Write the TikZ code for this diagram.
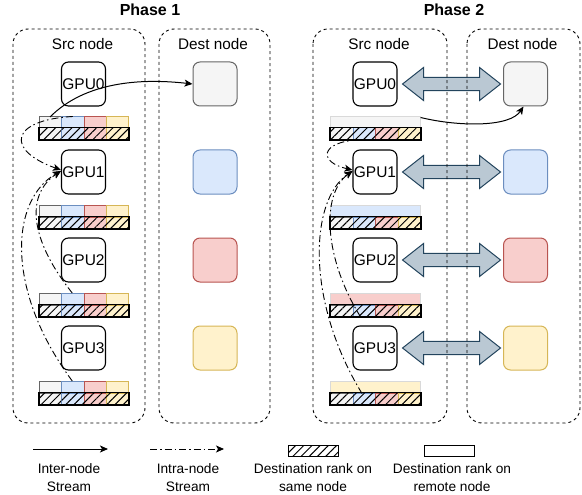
\documentclass[tikz,border=0pt]{standalone}
\usepackage{fontspec}
\setmainfont{Liberation Sans}
\usetikzlibrary{arrows.meta,patterns.meta,calc}

\definecolor{grayF}{HTML}{F5F5F5}\definecolor{grayD}{HTML}{666666}
\definecolor{blueF}{HTML}{DAE8FC}\definecolor{blueD}{HTML}{6C8EBF}
\definecolor{redF}{HTML}{F8CECC}\definecolor{redD}{HTML}{B85450}
\definecolor{yelF}{HTML}{FFF2CC}\definecolor{yelD}{HTML}{D6B656}
\definecolor{arrF}{HTML}{BAC8D3}\definecolor{arrD}{HTML}{23445D}

\begin{document}
\begin{tikzpicture}[x=1pt,y=-1pt,
  group/.style={draw=black, line width=0.9pt, dash pattern=on 3pt off 3pt, rounded corners=15pt},
  title/.style={font=\fontsize{16}{19}\selectfont\bfseries, anchor=base},
  grouplabel/.style={font=\fontsize{15.3}{18}\selectfont, anchor=base},
  gpu/.style={draw=black, line width=1.1pt, rounded corners=7pt, minimum size=44pt, inner sep=0pt,
    font=\fontsize{15.5}{18}\selectfont},
  dest/.style={draw=#1D, fill=#1F, line width=1pt, rounded corners=7pt, minimum size=44pt, inner sep=0pt},
  cell/.style={draw=#1D, fill=#1F, line width=0.8pt, minimum width=22.25pt, minimum height=11.5pt,
    inner sep=0pt, anchor=north west},
  hatch/.style={postaction={pattern={Lines[angle=45,distance=5.8pt,line width=1pt]}, pattern color=black}},
  hcell/.style={cell=#1, hatch},
  wrow/.style={draw=black!15, fill=#1F, line width=0.6pt, minimum width=90pt, minimum height=11.5pt,
    inner sep=0pt, anchor=north west},
  rowframe/.style={draw=black, line width=1.6pt},
  tip/.style={-{Stealth[length=8pt,width=7pt,inset=2pt]}},
  inter/.style={tip, draw=black, line width=1pt},
  intra/.style={tip, draw=black, line width=0.9pt, dash pattern=on 7pt off 3pt on 1.5pt off 3pt},
  dbl/.style={draw=arrD, fill=arrF, line width=1pt, line join=miter},
  legend/.style={font=\fontsize{13.7}{18}\selectfont, align=center, anchor=north, inner sep=0pt}
]
\useasboundingbox (0,0) rectangle (582,495);

% ---------- titles ----------
\node[title] (t1) at (150,16) {Phase 1};
\node[title] (t2) at (454,16) {Phase 2};

% ---------- GPUs and destination ranks ----------
\foreach \k/\y/\c in {0/84/gray,1/172/blue,2/260/red,3/348/yel} {
  \node[gpu] (g1\k) at (83.5,\y) {GPU\k};
  \node[dest=\c] (d1\k) at (215,\y) {};
  \node[gpu] (g2\k) at (375,\y) {GPU\k};
  \node[dest=\c] (d2\k) at (525.5,\y) {};
}

% ---------- phase 2 links between GPU pairs ----------
\foreach \k in {0,1,2,3} {
  \draw[dbl] ([xshift=5pt]g2\k.east) -- ++(21,-16.5) -- ++(0,9.9) -- ++(56,0) -- ++(0,-9.9)
    -- ++(21,16.5) -- ++(-21,16.5) -- ++(0,-9.9) -- ++(-56,0) -- ++(0,9.9) -- cycle;
}

% ---------- node groups ----------
\draw[group] (13,29) rectangle (145,423);
\draw[group] (159,29) rectangle (270,423);
\draw[group] (313,29) rectangle (447,423);
\draw[group] (467,29) rectangle (580,423);
\node[grouplabel] (s1) at (82.5,50) {Src node};
\node[grouplabel] (e1) at (213,50) {Dest node};
\node[grouplabel] (s2) at (379,50) {Src node};
\node[grouplabel] (e2) at (522.5,50) {Dest node};

% ---------- phase 1 send buffers ----------
\foreach \i/\y in {0/116,1/205,2/293,3/381} {
  \foreach \c/\cf in {0/gray,1/blue,2/red,3/yel} {
    \node[cell=\cf] (a\i\c) at (39+22.25*\c,\y) {};
    \node[hcell=\cf] (ah\i\c) at (39+22.25*\c,\y+11.5) {};
  }
  \draw[rowframe] (ah\i0.north west) rectangle (ah\i3.south east);
}

% ---------- phase 2 send buffers ----------
\foreach \i/\y/\cf in {0/116/gray,1/205/blue,2/293/red,3/381/yel} {
  \node[wrow=\cf] (p\i) at (330,\y) {};
  \foreach \c/\hf in {0/gray,1/blue,2/red,3/yel} {
    \node[hcell=\hf, minimum width=22.5pt] (ph\i\c) at (330+22.5*\c,\y+11.5) {};
  }
  \draw[rowframe] (ph\i0.north west) rectangle (ph\i3.south east);
}

% ---------- phase 1 streams ----------
\draw[inter] ([xshift=11pt,yshift=-1pt]a00.north west) .. controls (85,82) and (140,78) .. (d10.west);
\draw[intra] ([xshift=11.5pt,yshift=-0.5pt]a01.north west) .. controls (10,120) and (5,150) .. ([yshift=2pt]g11.west);
\draw[intra] ([xshift=11pt]a21.north west) .. controls (30,240) and (25,195) .. ([yshift=1pt]g11.west);
\draw[intra] ([xshift=11pt]a31.north west) .. controls (5,290) and (10,200) .. ([yshift=1pt]g11.west);

% ---------- phase 2 streams ----------
\draw[inter] ([yshift=-1.5pt]p0.north east) .. controls (460,127) and (510,127) .. ([xshift=-2pt]d20.south);
\draw[intra] ([xshift=6pt]ph01.south west) .. controls (320,142) and (318,162) .. ([yshift=2pt]g21.west);
\draw[intra] ([xshift=8pt]ph21.south west) .. controls (325,260) and (320,195) .. ([yshift=1pt]g21.west);
\draw[intra] ([xshift=9.5pt,yshift=-1pt]ph31.north west) .. controls (305,300) and (310,200) .. ([yshift=1pt]g21.west);

% ---------- legend ----------
\coordinate (l1a) at (33,449);  \coordinate (l1b) at (108,449);
\coordinate (l2a) at (150,449); \coordinate (l2b) at (224,449);
\draw[inter] (l1a) -- (l1b);
\draw[intra] (l2a) -- (l2b);
\node[draw=black, line width=0.9pt, fill=white, hatch, minimum width=50pt, minimum height=11pt, inner sep=0pt] (lh) at (313,450.5) {};
\node[draw=black, line width=0.9pt, fill=white, minimum width=50pt, minimum height=11pt, inner sep=0pt] (lw) at (449,450.5) {};
\node[legend] (x1) at (69,463) {Inter-node\\Stream};
\node[legend] (x2) at (188,463) {Intra-node\\Stream};
\node[legend] (x3) at (313,463) {Destination rank on\\same node};
\node[legend] (x4) at (452,463) {Destination rank on\\remote node};
\end{tikzpicture}
\end{document}
